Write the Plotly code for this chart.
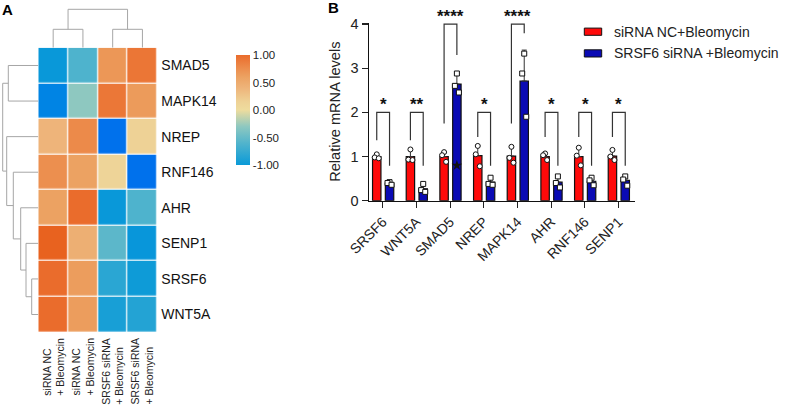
import plotly.graph_objects as go

W, H = 785, 406
FONT = "Liberation Sans, Arial, sans-serif"

# ---------------- Panel A data ----------------
heat_rows = ["SMAD5", "MAPK14", "NREP", "RNF146", "AHR", "SENP1", "SRSF6", "WNT5A"]
heat_cols = ["siRNA NC<br>+ Bleomycin", "siRNA NC<br>+ Bleomycin",
             "SRSF6 siRNA<br>+ Bleomycin", "SRSF6 siRNA<br>+ Bleomycin"]
z_smad5 = [-1.02, -0.62, 0.68, 0.93]
z_mapk14 = [-1.25, -0.30, 0.92, 0.65]
z_nrep = [0.40, 0.78, -1.45, 0.15]
z_rnf146 = [0.74, 0.60, 0.12, -1.45]
z_ahr = [0.60, 1.00, -1.02, -0.62]
z_senp1 = [1.08, 0.46, -0.55, -1.04]
z_srsf6 = [1.00, 0.64, -0.82, -0.98]
z_wnt5a = [1.00, 0.64, -0.92, -0.86]
heat_z = [z_smad5, z_mapk14, z_nrep, z_rnf146, z_ahr, z_senp1, z_srsf6, z_wnt5a]

# linkage: (child_a, child_b, height); leaves 0..n-1, new nodes n, n+1, ...
row_merges = [(6, 7, 0.66), (5, 8, 1.23), (4, 9, 1.76), (3, 10, 2.50),
              (2, 11, 3.16), (0, 1, 3.00), (13, 12, 3.56)]
col_merges = [(0, 1, 1.84), (2, 3, 1.84), (4, 5, 3.84)]

cbar_ticks = [-1.0, -0.5, 0.0, 0.5, 1.0]

# ---------------- Panel B data ----------------
bar_genes = ["SRSF6", "WNT5A", "SMAD5", "NREP", "MAPK14", "AHR", "RNF146", "SENP1"]
nc_mean = [1.00, 1.00, 1.00, 1.02, 1.01, 1.00, 1.00, 1.01]
nc_sd = [0.04, 0.14, 0.09, 0.22, 0.20, 0.06, 0.20, 0.14]
si_mean = [0.39, 0.27, 2.64, 0.42, 2.71, 0.42, 0.44, 0.46]
si_sd = [0.03, 0.10, 0.25, 0.12, 0.70, 0.11, 0.09, 0.08]
nc_points = [[1.05, 0.98, 0.96], [1.16, 0.93, 0.92], [1.10, 1.03, 0.88], [1.24, 1.05, 0.78],
             [1.22, 0.97, 0.86], [1.07, 1.03, 0.92], [1.20, 1.02, 0.80], [1.15, 1.00, 0.92]]
si_points = [[0.42, 0.40, 0.36], [0.38, 0.24, 0.20], [2.88, 2.60, 2.45], [0.52, 0.38, 0.36],
             [3.33, 2.88, 1.90], [0.55, 0.40, 0.30], [0.52, 0.46, 0.35], [0.55, 0.48, 0.34]]
outlier_gene = [2]
outlier_value = [0.80]
sig_labels = ["*", "**", "****", "*", "****", "*", "*", "*"]
bracket_top = [2.0, 2.0, 4.0, 2.0, 4.0, 2.0, 2.0, 2.0]
bracket_left_end = [1.37, 1.37, 1.75, 1.44, 1.75, 1.44, 1.44, 1.44]
bracket_right_end = [0.79, 0.79, 3.30, 0.79, 3.79, 0.79, 0.79, 0.79]
series_names = ["siRNA NC+Bleomycin", "SRSF6 siRNA +Bleomycin"]

# ---------------- styles ----------------
stop_vals = [-1.5, -1.25, -1.0, -0.6, -0.3, 0.0, 0.15, 0.4, 0.6, 0.78, 1.0, 1.1]
stop_cols = ["#006cee", "#0084e4", "#0a9ad8", "#52b4cc", "#8ec8c0", "#eedc9e",
             "#eed296", "#eeb47a", "#eca262", "#ec8a4a", "#ea6c2c", "#e8601c"]
ZMIN, ZMAX = stop_vals[0], stop_vals[-1]
heat_scale = [[(v - ZMIN) / (ZMAX - ZMIN), c] for v, c in zip(stop_vals, stop_cols)]
cb_scale = [[(v + 1) / 2, c] for v, c in zip(stop_vals, stop_cols) if -1 <= v <= 1]
RED, BLUE = "#ff0a0a", "#0a0ab4"
DEND = "#a6a6a6"


def px_x(p):
    return p / W


def px_y(p):
    return 1 - p / H


def dendro(n, merges):
    pos = {i: float(i) for i in range(n)}
    hgt = {i: 0.0 for i in range(n)}
    P, Hh = [], []
    for k, (a, b, h) in enumerate(merges):
        P += [pos[a], pos[a], pos[b], pos[b], None]
        Hh += [hgt[a], h, h, hgt[b], None]
        pos[n + k] = (pos[a] + pos[b]) / 2
        hgt[n + k] = h
    return P, Hh


fig = go.Figure()

# heatmap
fig.add_trace(go.Heatmap(z=heat_z, x=list(range(len(heat_cols))), y=list(range(len(heat_rows))),
                         colorscale=heat_scale, zmin=ZMIN, zmax=ZMAX, showscale=False,
                         xgap=1.2, ygap=1.2, hoverinfo="skip"))
# colorbar carrier
fig.add_trace(go.Scatter(x=[0], y=[0], mode="markers", hoverinfo="skip", showlegend=False,
                         marker=dict(size=1, opacity=0, color=[0], cmin=-1, cmax=1,
                                     colorscale=cb_scale, showscale=True,
                                     colorbar=dict(x=px_x(235.7), xanchor="left", xpad=0,
                                                   y=px_y(110), yanchor="middle", ypad=0,
                                                   len=110 / H, lenmode="fraction",
                                                   thickness=13.7, thicknessmode="pixels",
                                                   outlinewidth=0, ticks="",
                                                   tickvals=cbar_ticks,
                                                   ticktext=[f"{v:.2f}" for v in cbar_ticks],
                                                   tickfont=dict(size=11.5, color="#222")))))
# dendrograms
rp, rh = dendro(len(heat_rows), row_merges)
fig.add_trace(go.Scatter(x=rh, y=rp, xaxis="x2", yaxis="y", mode="lines",
                         line=dict(color=DEND, width=1), hoverinfo="skip", showlegend=False))
cp, ch = dendro(len(heat_cols), col_merges)
fig.add_trace(go.Scatter(x=cp, y=ch, xaxis="x", yaxis="y2", mode="lines",
                         line=dict(color=DEND, width=1), hoverinfo="skip", showlegend=False))

# bars
idx = list(range(len(bar_genes)))
OFF_NC, OFF_SI, BW = -0.18, 0.20, 0.25
for means, sds, col, off, name in [(nc_mean, nc_sd, RED, OFF_NC, series_names[0]),
                                   (si_mean, si_sd, BLUE, OFF_SI, series_names[1])]:
    fig.add_trace(go.Bar(x=idx, y=means, xaxis="x3", yaxis="y3", name=name, showlegend=False,
                         width=BW, offset=off - BW / 2,
                         marker=dict(color=col, line=dict(color="#111", width=1.2)),
                         error_y=dict(type="data", array=sds, arrayminus=[0] * len(sds),
                                      symmetric=False, color="#333", thickness=1, width=2.5)))

jit = [0.0, -0.06, 0.06]
for pts, off, sym in [(nc_points, OFF_NC, "circle"), (si_points, OFF_SI, "square")]:
    xs, ys = [], []
    for i, trip in enumerate(pts):
        for j, v in enumerate(trip):
            xs.append(i + off + jit[j])
            ys.append(v)
    fig.add_trace(go.Scatter(x=xs, y=ys, xaxis="x3", yaxis="y3", mode="markers",
                             showlegend=False, hoverinfo="skip", cliponaxis=False,
                             marker=dict(symbol=sym, size=5, color="white",
                                         line=dict(color="#111", width=1))))
fig.add_trace(go.Scatter(x=[g + OFF_SI for g in outlier_gene], y=outlier_value, xaxis="x3",
                         yaxis="y3", mode="markers", showlegend=False, hoverinfo="skip",
                         marker=dict(symbol="star", size=8, color="#111")))

shapes = []
annotations = []
for i in idx:
    xl, xr = i + OFF_NC, i + OFF_SI
    shapes.append(dict(type="path", xref="x3", yref="y3",
                       path=f"M{xl},{bracket_left_end[i]} L{xl},{bracket_top[i]} "
                            f"L{xr},{bracket_top[i]} L{xr},{bracket_right_end[i]}",
                       line=dict(color="#333", width=1.2)))
    annotations.append(dict(x=(xl + xr) / 2, y=bracket_top[i], xref="x3", yref="y3",
                            text="<b>" + sig_labels[i] + "</b>", showarrow=False,
                            yanchor="bottom", yshift=-4,
                            font=dict(size=17, color="#111", family=FONT)))

# legend
for k, (col, yc) in enumerate([(RED, 31.7), (BLUE, 53.4)]):
    shapes.append(dict(type="rect", xref="paper", yref="paper",
                       x0=px_x(584.3), x1=px_x(601.7), y0=px_y(yc + 3.6), y1=px_y(yc - 3.6),
                       fillcolor=col, line=dict(color="#111", width=1)))
    annotations.append(dict(x=px_x(612), y=px_y(yc), xref="paper", yref="paper",
                            text=series_names[k], showarrow=False, xanchor="left",
                            yanchor="middle", font=dict(size=14, color="#222", family=FONT)))

# column labels of heatmap
for j, lab in enumerate(heat_cols):
    annotations.append(dict(x=j, y=px_y(335.5), xref="x", yref="paper", text=lab,
                            showarrow=False, textangle=-90, align="left",
                            xanchor="center", yanchor="top",
                            font=dict(size=10.5, color="#222", family=FONT)))

# panel letters
annotations.append(dict(x=px_x(0), y=px_y(9.5), xref="paper", yref="paper", text="<b>A</b>",
                        showarrow=False, xanchor="left", yanchor="middle",
                        font=dict(size=15, color="#000", family=FONT)))
annotations.append(dict(x=px_x(326), y=px_y(8), xref="paper", yref="paper", text="<b>B</b>",
                        showarrow=False, xanchor="left", yanchor="middle",
                        font=dict(size=15, color="#000", family=FONT)))

fig.update_layout(
    width=W, height=H, margin=dict(l=0, r=0, t=0, b=0, pad=0, autoexpand=False),
    paper_bgcolor="white", plot_bgcolor="white", barmode="overlay", showlegend=False,
    font=dict(family=FONT, color="#222"), hovermode=False,
    xaxis=dict(domain=[px_x(38.3), px_x(157.3)], range=[-0.5, 3.5], anchor="y",
               showticklabels=False, showgrid=False, zeroline=False, ticks="", automargin=False),
    yaxis=dict(domain=[px_y(332.3), px_y(47.7)], range=[7.5, -0.5], anchor="x", side="right",
               tickvals=list(range(len(heat_rows))), ticktext=heat_rows, ticks="",
               ticklabelstandoff=3, automargin=False,
               tickfont=dict(size=14, color="#111"), showgrid=False, zeroline=False),
    xaxis2=dict(domain=[0, px_x(38.3)], range=[3.83, 0], anchor="y", visible=False,
                automargin=False),
    yaxis2=dict(domain=[px_y(47.7), px_y(5)], range=[0, 4.27], anchor="x", visible=False,
                automargin=False),
    xaxis3=dict(domain=[px_x(369), px_x(635)], range=[-0.41, 7.49], anchor="y3",
                tickvals=idx, ticktext=bar_genes, tickangle=-45, ticks="outside", ticklen=6,
                tickwidth=1.3, tickcolor="#222", showline=True, linecolor="#111", linewidth=1.5,
                tickfont=dict(size=14, color="#222"), showgrid=False, zeroline=False,
                automargin=False),
    yaxis3=dict(domain=[px_y(200.7), px_y(22.7)], range=[0, 4.03], anchor="x3",
                tickvals=[0, 1, 2, 3, 4], ticks="outside", ticklen=6, tickwidth=1.3,
                tickcolor="#222", showline=True, linecolor="#111", linewidth=1.5,
                tickfont=dict(size=14.5, color="#222"), showgrid=False, zeroline=False,
                automargin=False,
                title=dict(text="Relative mRNA levels", font=dict(size=14.6, color="#222"),
                           standoff=6)),
    shapes=shapes, annotations=annotations,
)

fig.write_html("out.html", config={"displayModeBar": False, "staticPlot": True},
               post_script="document.body.style.margin='0px';")
